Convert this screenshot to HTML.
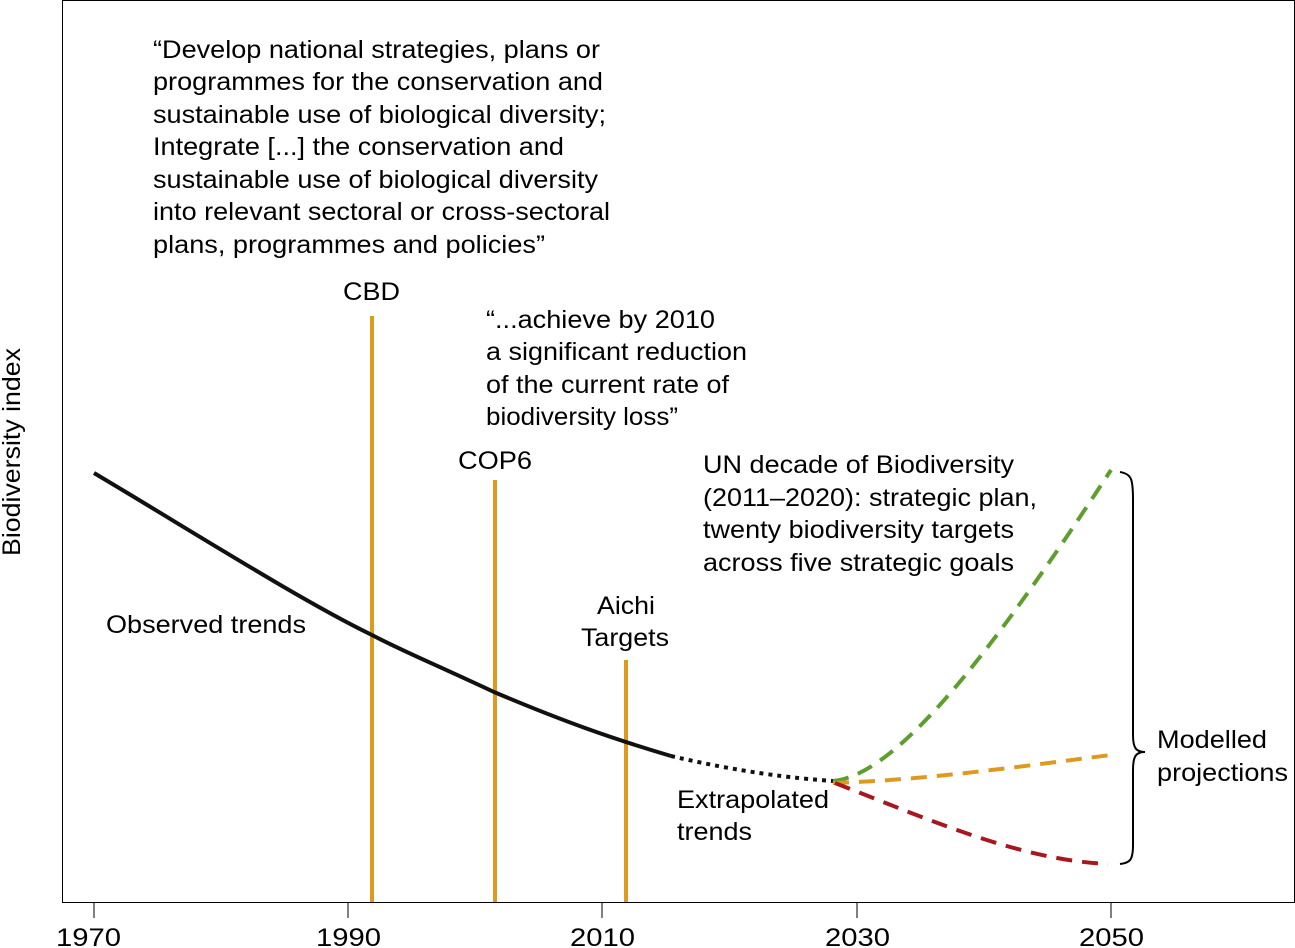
<!DOCTYPE html>
<html><head><meta charset="utf-8"><style>
body{margin:0;background:#fff}
svg{display:block}
text{font-family:"Liberation Sans",Arial,sans-serif;font-size:25px;fill:#000}
</style></head><body>
<svg width="1295" height="948" viewBox="0 0 1295 948">
<rect x="62.5" y="0.5" width="1232" height="902" fill="none" stroke="#000" stroke-width="1"/>
<g stroke="#000" stroke-width="1">
<line x1="94" y1="902" x2="94" y2="918"/><line x1="348" y1="902" x2="348" y2="918"/>
<line x1="602" y1="902" x2="602" y2="918"/><line x1="857" y1="902" x2="857" y2="918"/>
<line x1="1111" y1="902" x2="1111" y2="918"/>
</g>
<g lengthAdjust="spacingAndGlyphs">
<text x="56" y="946" textLength="65" lengthAdjust="spacingAndGlyphs">1970</text>
<text x="316" y="946" textLength="65" lengthAdjust="spacingAndGlyphs">1990</text>
<text x="570" y="946" textLength="65" lengthAdjust="spacingAndGlyphs">2010</text>
<text x="825" y="946" textLength="65" lengthAdjust="spacingAndGlyphs">2030</text>
<text x="1079" y="946" textLength="65" lengthAdjust="spacingAndGlyphs">2050</text>
</g>
<text transform="translate(20,556) rotate(-90)" textLength="208" lengthAdjust="spacingAndGlyphs">Biodiversity index</text>
<g stroke="#DE9A1E" stroke-width="4">
<line x1="372" y1="316" x2="372" y2="902"/>
<line x1="495" y1="480" x2="495" y2="902"/>
<line x1="626" y1="660" x2="626" y2="902"/>
</g>
<path d="M94,473 C190,530 300,600 372,635 C400,650 430,662 494,692 C560,720 610,738 671,756" fill="none" stroke="#111" stroke-width="4"/>
<path d="M671,756 C740,772 790,778 833,781" fill="none" stroke="#111" stroke-width="4" stroke-dasharray="4,5"/>
<path d="M833,781 C900,775 1000,640 1111,470" fill="none" stroke="#5E9E2E" stroke-width="4" stroke-dasharray="16,10"/>
<path d="M833,783 C930,780 1030,765 1111,755" fill="none" stroke="#DE9A1E" stroke-width="4" stroke-dasharray="16,10"/>
<path d="M835,783 C930,820 1020,860 1108,864" fill="none" stroke="#A8161F" stroke-width="4" stroke-dasharray="16,10"/>
<path d="M1120,472 C1132,474 1133,480 1133,500 L1133,735 C1133,748 1136,752 1145,752 C1136,752 1133,756 1133,770 L1133,845 C1133,860 1130,863 1120,864" fill="none" stroke="#000" stroke-width="2"/>
<text x="153" y="58" textLength="447" lengthAdjust="spacingAndGlyphs">“Develop national strategies, plans or</text>
<text x="153" y="90" textLength="450" lengthAdjust="spacingAndGlyphs">programmes for the conservation and</text>
<text x="153" y="123" textLength="453" lengthAdjust="spacingAndGlyphs">sustainable use of biological diversity;</text>
<text x="153" y="155" textLength="411" lengthAdjust="spacingAndGlyphs">Integrate [...] the conservation and</text>
<text x="153" y="188" textLength="445" lengthAdjust="spacingAndGlyphs">sustainable use of biological diversity</text>
<text x="153" y="220" textLength="457" lengthAdjust="spacingAndGlyphs">into relevant sectoral or cross-sectoral</text>
<text x="153" y="253" textLength="392" lengthAdjust="spacingAndGlyphs">plans, programmes and policies”</text>
<text x="343" y="300" textLength="57" lengthAdjust="spacingAndGlyphs">CBD</text>
<text x="486" y="328" textLength="229" lengthAdjust="spacingAndGlyphs">“...achieve by 2010</text>
<text x="486" y="360" textLength="261" lengthAdjust="spacingAndGlyphs">a significant reduction</text>
<text x="486" y="393" textLength="243" lengthAdjust="spacingAndGlyphs">of the current rate of</text>
<text x="486" y="425" textLength="192" lengthAdjust="spacingAndGlyphs">biodiversity loss”</text>
<text x="458" y="469" textLength="74" lengthAdjust="spacingAndGlyphs">COP6</text>
<text x="703" y="473" textLength="311" lengthAdjust="spacingAndGlyphs">UN decade of Biodiversity</text>
<text x="703" y="506" textLength="334" lengthAdjust="spacingAndGlyphs">(2011–2020): strategic plan,</text>
<text x="703" y="538" textLength="311" lengthAdjust="spacingAndGlyphs">twenty biodiversity targets</text>
<text x="703" y="571" textLength="311" lengthAdjust="spacingAndGlyphs">across five strategic goals</text>
<text x="597" y="614" textLength="58" lengthAdjust="spacingAndGlyphs">Aichi</text>
<text x="581" y="646" textLength="88" lengthAdjust="spacingAndGlyphs">Targets</text>
<text x="106" y="633" textLength="200" lengthAdjust="spacingAndGlyphs">Observed trends</text>
<text x="677" y="808" textLength="152" lengthAdjust="spacingAndGlyphs">Extrapolated</text>
<text x="677" y="840" textLength="75" lengthAdjust="spacingAndGlyphs">trends</text>
<text x="1157" y="748" textLength="110" lengthAdjust="spacingAndGlyphs">Modelled</text>
<text x="1157" y="781" textLength="131" lengthAdjust="spacingAndGlyphs">projections</text>
</svg>
</body></html>
